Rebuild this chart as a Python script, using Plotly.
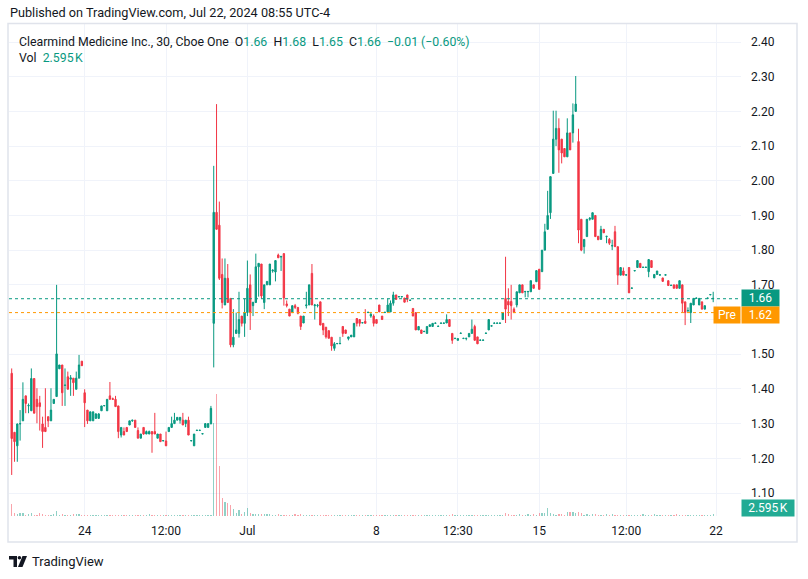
import plotly.graph_objects as go

# ---------------- data (30-min bars, Cboe One) ----------------
open_ = [
    1.445, 1.275, 1.236, 1.299, 1.308, 1.380, 1.351, 1.337, 1.430, 1.370,
    1.360, 1.299, 1.289, 1.320, 1.308, 1.358, 1.378, 1.458, 1.469,
    1.410, 1.435, 1.428, 1.431, 1.399, 1.431, 1.480, 1.389, 1.339, 1.308,
    1.308, 1.315, 1.315, 1.337, 1.351, 1.337, 1.380, 1.372, 1.370, 1.351,
    1.267, 1.277, 1.289, 1.296, 1.308, 1.310, 1.280, 1.258, 1.289, 1.270,
    1.270, 1.277, 1.277, 1.258, 1.270, 1.250, 1.250, 1.277, 1.289, 1.300,
    1.310, 1.310, 1.310, 1.300, 1.310, 1.250, 1.236, 1.280, 1.280, 1.270,
    1.289, 1.289, 1.299, 1.589, 1.909, 1.872, 1.730, 1.642, 1.719, 1.661,
    1.527, 1.560, 1.560, 1.610, 1.589, 1.620, 1.700, 1.640, 1.649, 1.752,
    1.760, 1.649, 1.700, 1.700, 1.740, 1.737, 1.786, 1.780, 1.790, 1.645,
    1.630, 1.620, 1.640, 1.635, 1.610, 1.590, 1.640, 1.642, 1.733, 1.640,
    1.640, 1.651, 1.589, 1.578, 1.568, 1.549, 1.517, 1.530, 1.530, 1.580,
    1.570, 1.545, 1.550, 1.550, 1.603, 1.600, 1.590, 1.595, 1.620, 1.610,
    1.610, 1.600, 1.642, 1.610, 1.620, 1.622, 1.622, 1.647, 1.671, 1.665,
    1.665, 1.662, 1.671, 1.655, 1.632, 1.620, 1.570, 1.570, 1.565, 1.560,
    1.580, 1.580, 1.589, 1.580, 1.589, 1.589, 1.590, 1.600, 1.560, 1.545,
    1.540, 1.560, 1.545, 1.545, 1.550, 1.560, 1.580, 1.550, 1.540, 1.540,
    1.560, 1.570, 1.581, 1.589, 1.589, 1.589, 1.600, 1.661, 1.652, 1.652,
    1.630, 1.642, 1.677, 1.700, 1.680, 1.680, 1.680, 1.700, 1.709, 1.745,
    1.738, 1.800, 1.860, 1.908, 2.021, 2.120, 2.151, 2.120, 2.093, 2.069,
    2.138, 2.138, 2.200, 2.113, 1.889, 1.810, 1.839, 1.889, 1.889, 1.900,
    1.840, 1.831, 1.860, 1.839, 1.831, 1.812, 1.853, 1.810, 1.728, 1.740,
    1.728, 1.750, 1.690, 1.740, 1.750, 1.762, 1.750, 1.750, 1.738, 1.770,
    1.720, 1.730, 1.728, 1.720, 1.728, 1.712, 1.698, 1.700, 1.700, 1.690,
    1.700, 1.651, 1.625, 1.620, 1.642, 1.661, 1.642, 1.651, 1.630, 1.661,
    1.671, 1.660,
]
high = [
    1.459, 1.275, 1.300, 1.339, 1.419, 1.380, 1.358, 1.459, 1.430, 1.402,
    1.380, 1.320, 1.402, 1.320, 1.402, 1.370, 1.700, 1.469, 1.469,
    1.459, 1.450, 1.440, 1.431, 1.450, 1.498, 1.480, 1.399, 1.339, 1.334,
    1.334, 1.330, 1.330, 1.351, 1.351, 1.370, 1.420, 1.375, 1.380, 1.351,
    1.289, 1.289, 1.289, 1.308, 1.310, 1.310, 1.289, 1.270, 1.289, 1.280,
    1.280, 1.277, 1.331, 1.270, 1.270, 1.250, 1.277, 1.289, 1.320, 1.331,
    1.318, 1.318, 1.331, 1.310, 1.320, 1.250, 1.270, 1.280, 1.280, 1.270,
    1.300, 1.300, 1.351, 2.043, 2.221, 1.940, 1.776, 1.776, 1.760, 1.661,
    1.630, 1.620, 1.680, 1.610, 1.660, 1.770, 1.730, 1.650, 1.790, 1.762,
    1.760, 1.700, 1.710, 1.760, 1.745, 1.770, 1.790, 1.782, 1.790, 1.655,
    1.630, 1.640, 1.645, 1.635, 1.610, 1.610, 1.680, 1.700, 1.760, 1.645,
    1.645, 1.651, 1.589, 1.578, 1.568, 1.549, 1.535, 1.530, 1.550, 1.580,
    1.570, 1.550, 1.555, 1.589, 1.603, 1.600, 1.590, 1.630, 1.620, 1.622,
    1.615, 1.600, 1.642, 1.610, 1.620, 1.660, 1.655, 1.680, 1.671, 1.665,
    1.665, 1.662, 1.671, 1.655, 1.632, 1.620, 1.580, 1.570, 1.565, 1.580,
    1.585, 1.589, 1.589, 1.580, 1.589, 1.589, 1.615, 1.600, 1.560, 1.545,
    1.545, 1.560, 1.545, 1.545, 1.560, 1.600, 1.585, 1.550, 1.540, 1.540,
    1.560, 1.600, 1.581, 1.589, 1.589, 1.589, 1.620, 1.781, 1.690, 1.700,
    1.635, 1.680, 1.700, 1.700, 1.680, 1.680, 1.712, 1.700, 1.741, 1.745,
    1.800, 1.876, 1.971, 2.012, 2.202, 2.202, 2.180, 2.120, 2.093, 2.180,
    2.138, 2.223, 2.302, 2.150, 1.889, 1.831, 1.889, 1.895, 1.908, 1.900,
    1.840, 1.870, 1.860, 1.839, 1.835, 1.830, 1.870, 1.810, 1.750, 1.750,
    1.728, 1.750, 1.690, 1.740, 1.770, 1.762, 1.750, 1.750, 1.773, 1.770,
    1.730, 1.740, 1.728, 1.720, 1.728, 1.712, 1.698, 1.700, 1.700, 1.712,
    1.700, 1.651, 1.635, 1.647, 1.661, 1.661, 1.661, 1.651, 1.640, 1.661,
    1.671, 1.680,
]
low = [
    1.152, 1.190, 1.190, 1.251, 1.308, 1.330, 1.330, 1.337, 1.330, 1.301,
    1.280, 1.230, 1.277, 1.290, 1.308, 1.358, 1.378, 1.458, 1.351,
    1.351, 1.399, 1.380, 1.380, 1.399, 1.431, 1.467, 1.290, 1.299, 1.308,
    1.308, 1.315, 1.315, 1.337, 1.351, 1.337, 1.370, 1.368, 1.349, 1.258,
    1.260, 1.267, 1.277, 1.296, 1.305, 1.289, 1.258, 1.258, 1.268, 1.270,
    1.270, 1.216, 1.270, 1.258, 1.248, 1.250, 1.236, 1.277, 1.289, 1.300,
    1.310, 1.300, 1.296, 1.290, 1.267, 1.250, 1.236, 1.280, 1.280, 1.270,
    1.289, 1.289, 1.299, 1.462, 1.860, 1.714, 1.632, 1.642, 1.649, 1.520,
    1.520, 1.560, 1.548, 1.580, 1.550, 1.610, 1.570, 1.610, 1.649, 1.666,
    1.660, 1.630, 1.700, 1.700, 1.735, 1.710, 1.778, 1.740, 1.640, 1.635,
    1.610, 1.620, 1.630, 1.615, 1.570, 1.590, 1.632, 1.642, 1.642, 1.600,
    1.635, 1.584, 1.555, 1.545, 1.546, 1.510, 1.510, 1.530, 1.530, 1.550,
    1.560, 1.540, 1.550, 1.550, 1.580, 1.580, 1.590, 1.589, 1.620, 1.605,
    1.580, 1.589, 1.622, 1.600, 1.620, 1.622, 1.622, 1.640, 1.658, 1.665,
    1.665, 1.650, 1.650, 1.655, 1.610, 1.570, 1.570, 1.560, 1.565, 1.560,
    1.580, 1.580, 1.589, 1.580, 1.589, 1.589, 1.590, 1.580, 1.530, 1.545,
    1.540, 1.560, 1.545, 1.540, 1.550, 1.560, 1.540, 1.530, 1.540, 1.540,
    1.560, 1.570, 1.581, 1.589, 1.589, 1.589, 1.600, 1.590, 1.610, 1.600,
    1.620, 1.635, 1.677, 1.677, 1.664, 1.664, 1.680, 1.690, 1.709, 1.687,
    1.738, 1.800, 1.860, 1.890, 2.021, 2.100, 2.023, 2.050, 2.069, 2.069,
    2.089, 2.110, 2.200, 1.820, 1.797, 1.790, 1.839, 1.885, 1.889, 1.839,
    1.830, 1.831, 1.850, 1.820, 1.815, 1.800, 1.810, 1.700, 1.728, 1.728,
    1.728, 1.677, 1.690, 1.740, 1.750, 1.750, 1.750, 1.750, 1.722, 1.750,
    1.720, 1.730, 1.728, 1.710, 1.728, 1.698, 1.698, 1.690, 1.690, 1.690,
    1.620, 1.584, 1.620, 1.590, 1.642, 1.661, 1.642, 1.630, 1.630, 1.661,
    1.671, 1.650,
]
close = [
    1.257, 1.248, 1.299, 1.300, 1.370, 1.358, 1.352, 1.430, 1.330, 1.349,
    1.349, 1.277, 1.277, 1.308, 1.339, 1.370, 1.501, 1.469, 1.389,
    1.411, 1.399, 1.432, 1.418, 1.431, 1.469, 1.467, 1.360, 1.308, 1.334,
    1.334, 1.328, 1.328, 1.351, 1.352, 1.370, 1.370, 1.370, 1.349, 1.277,
    1.289, 1.267, 1.277, 1.308, 1.310, 1.289, 1.258, 1.270, 1.270, 1.277,
    1.277, 1.270, 1.270, 1.270, 1.248, 1.251, 1.236, 1.289, 1.300, 1.310,
    1.318, 1.318, 1.296, 1.310, 1.267, 1.251, 1.270, 1.281, 1.281, 1.271,
    1.300, 1.300, 1.344, 1.909, 1.860, 1.719, 1.649, 1.719, 1.649, 1.527,
    1.549, 1.570, 1.600, 1.589, 1.620, 1.690, 1.620, 1.650, 1.752, 1.762,
    1.668, 1.700, 1.710, 1.760, 1.742, 1.770, 1.778, 1.782, 1.662, 1.640,
    1.610, 1.640, 1.635, 1.618, 1.580, 1.610, 1.642, 1.700, 1.642, 1.642,
    1.641, 1.584, 1.570, 1.550, 1.546, 1.524, 1.530, 1.531, 1.531, 1.560,
    1.560, 1.550, 1.555, 1.589, 1.589, 1.589, 1.591, 1.589, 1.621, 1.615,
    1.589, 1.589, 1.622, 1.600, 1.621, 1.642, 1.647, 1.671, 1.658, 1.666,
    1.666, 1.650, 1.658, 1.656, 1.610, 1.570, 1.580, 1.560, 1.566, 1.580,
    1.585, 1.589, 1.590, 1.581, 1.590, 1.590, 1.600, 1.580, 1.540, 1.546,
    1.545, 1.561, 1.546, 1.546, 1.560, 1.572, 1.540, 1.530, 1.541, 1.541,
    1.561, 1.600, 1.582, 1.590, 1.590, 1.590, 1.620, 1.630, 1.642, 1.640,
    1.620, 1.680, 1.700, 1.677, 1.681, 1.681, 1.712, 1.690, 1.741, 1.687,
    1.800, 1.853, 1.900, 2.012, 2.120, 2.151, 2.089, 2.080, 2.069, 2.138,
    2.089, 2.190, 2.221, 1.858, 1.800, 1.831, 1.889, 1.892, 1.908, 1.839,
    1.830, 1.860, 1.850, 1.840, 1.820, 1.813, 1.810, 1.728, 1.750, 1.728,
    1.729, 1.677, 1.691, 1.741, 1.770, 1.750, 1.751, 1.751, 1.773, 1.750,
    1.730, 1.740, 1.729, 1.710, 1.729, 1.698, 1.699, 1.690, 1.690, 1.712,
    1.647, 1.620, 1.626, 1.647, 1.661, 1.662, 1.661, 1.630, 1.640, 1.662,
    1.672, 1.661,
]
volume_k = [
    15.0, 3.8, 2.5, 3.8, 3.8, 1.3, 2.5, 3.8, 1.3, 1.3,
    3.8, 2.5, 1.3, 1.3, 1.3, 2.5, 6.4, 1.3, 2.5,
    1.3, 1.3, 1.3, 2.5, 2.5, 2.5, 1.3, 1.3, 1.3, 1.3,
    1.3, 1.3, 1.3, 1.3, 1.3, 1.3, 1.3, 1.3, 1.3, 1.3,
    1.3, 1.3, 1.3, 1.3, 1.3, 1.3, 1.3, 1.3, 1.3, 1.3,
    2.5, 1.3, 1.3, 1.3, 1.3, 1.3, 1.3, 1.3, 1.3, 1.3,
    1.3, 1.3, 1.3, 1.3, 1.3, 1.3, 1.3, 1.3, 1.3, 1.3,
    1.3, 1.3, 1.3, 118.0, 155.0, 64.0, 22.5, 17.4, 16.0, 13.6,
    8.5, 3.8, 7.2, 2.5, 4.7, 9.8, 3.4, 2.5, 2.5, 2.5,
    2.5, 2.5, 2.5, 2.5, 1.3, 1.3, 2.5, 1.3, 1.3, 1.3,
    1.3, 1.3, 2.5, 1.3, 2.5, 1.3, 1.3, 1.3, 1.3, 1.3,
    1.3, 1.3, 1.3, 1.3, 1.3, 1.3, 1.3, 1.3, 1.3, 1.3,
    1.3, 1.3, 1.3, 1.3, 1.3, 1.3, 1.3, 1.3, 1.3, 1.3,
    1.3, 1.3, 1.3, 1.3, 1.3, 1.3, 1.3, 1.3, 1.3, 1.3,
    1.3, 1.3, 1.3, 1.3, 1.3, 1.3, 1.3, 1.3, 1.3, 1.3,
    1.3, 1.3, 1.3, 1.3, 1.3, 1.3, 1.3, 1.3, 2.5, 1.3,
    1.3, 1.3, 1.3, 1.3, 1.3, 1.3, 1.3, 1.3, 1.3, 1.3,
    1.3, 1.3, 1.3, 1.3, 1.3, 1.3, 1.3, 3.8, 2.5, 1.3,
    1.3, 1.3, 2.5, 1.3, 1.3, 2.5, 1.3, 2.5, 1.3, 3.8,
    3.8, 3.8, 10.0, 3.8, 2.5, 1.3, 2.5, 2.5, 1.3, 5.0,
    5.0, 5.0, 3.8, 5.0, 3.8, 1.3, 2.5, 1.3, 2.5, 2.5,
    1.3, 1.3, 1.3, 2.5, 1.3, 2.5, 1.3, 1.3, 1.3, 1.3,
    1.3, 1.3, 1.3, 1.3, 1.3, 1.3, 2.5, 1.3, 1.3, 1.3,
    2.5, 1.3, 1.3, 1.3, 1.3, 1.3, 1.3, 1.3, 2.5, 1.3,
    1.3, 1.3, 1.3, 1.3, 1.3, 1.3, 1.3, 1.3, 1.3, 1.3,
    1.3, 2.595,
]
tick_bars = [26, 55, 84, 130, 159, 188, 219, 251]
tick_labels = ["24", "12:00", "Jul", "8", "12:30", "15", "12:00", "22"]
price_ticks = [1.10, 1.20, 1.30, 1.40, 1.50, 1.60, 1.70, 1.80, 1.90, 2.00,
               2.10, 2.20, 2.30, 2.40]
last_price = 1.66
pre_price = 1.62
last_volume_label = "2.595\u202fK"

# ---------------- styling ----------------
GREEN = "#089981"
RED = "#F23645"
ORANGE = "#FF9800"
VOL_GREEN = "rgba(8,153,129,0.45)"
VOL_RED = "rgba(242,54,69,0.45)"
GRID = "#f0f3fa"
TEXT = "#131722"
FONT = "Roboto, 'Open Sans', sans-serif"

W, H = 808, 579
L, R, T, B = 9, 741, 23, 516          # plot area in pixels
PW, PH = R - L, B - T


def px_x(px):
    return (px - L) / PW


def px_y(py):
    return (B - py) / PH


bars = list(range(len(open_)))
vol_colors = [VOL_GREEN if c >= o else VOL_RED for o, c in zip(open_, close)]

fig = go.Figure()
fig.add_trace(go.Bar(
    x=bars, y=volume_k, yaxis="y2", marker=dict(color=vol_colors, line=dict(width=0)),
    width=0.45, hoverinfo="skip", showlegend=False,
))
fig.add_trace(go.Candlestick(
    x=bars, open=open_, high=high, low=low, close=close,
    increasing=dict(line=dict(color=GREEN, width=1), fillcolor=GREEN),
    decreasing=dict(line=dict(color=RED, width=1), fillcolor=RED),
    whiskerwidth=0, showlegend=False, hoverinfo="skip",
))

shapes = [
    dict(type="line", xref="paper", x0=0, x1=1, yref="y", y0=last_price, y1=last_price,
         line=dict(color=GREEN, width=1, dash="dot")),
    dict(type="line", xref="paper", x0=0, x1=1, yref="y", y0=pre_price, y1=pre_price,
         line=dict(color=ORANGE, width=1, dash="dot")),
    # chart frame
    dict(type="rect", xref="paper", yref="paper", x0=px_x(8), x1=px_x(797),
         y0=px_y(542), y1=px_y(23.5), line=dict(color="#e0e3eb", width=1.5)),
]


def path_px(points):
    return "M " + " L ".join(f"{px_x(x):.5f},{px_y(y):.5f}" for x, y in points) + " Z"


# TradingView logo (decorative)
shapes.append(dict(type="path", xref="paper", yref="paper",
                   path=path_px([(9, 556), (17, 556), (17, 567), (13.5, 567), (13.5, 559.5), (9, 559.5)]),
                   fillcolor=TEXT, line=dict(width=0)))
shapes.append(dict(type="circle", xref="paper", yref="paper",
                   x0=px_x(17.6), x1=px_x(21.2), y0=px_y(559.6), y1=px_y(556),
                   fillcolor=TEXT, line=dict(width=0)))
shapes.append(dict(type="path", xref="paper", yref="paper",
                   path=path_px([(22.5, 556), (27, 556), (22.5, 567), (18, 567)]),
                   fillcolor=TEXT, line=dict(width=0)))

nb = "\u00a0"
g = lambda s: f'<span style="color:{GREEN}">{s}</span>'
legend_line = (f"Clearmind Medicine Inc., 30, Cboe One{nb}{nb}O{g('1.66')}{nb}{nb}H{g('1.68')}"
               f"{nb}{nb}L{g('1.65')}{nb}{nb}C{g('1.66')}{nb}{nb}{g('−0.01 (−0.60%)')}")

annotations = [
    dict(text="Published on TradingView.com, Jul 22, 2024 08:55 UTC-4", xref="paper", yref="paper",
         x=px_x(8), y=px_y(13), xanchor="left", yanchor="middle", showarrow=False,
         font=dict(size=12.7, color=TEXT, family=FONT)),
    dict(text=legend_line, xref="paper", yref="paper",
         x=px_x(17), y=px_y(42), xanchor="left", yanchor="middle", showarrow=False,
         font=dict(size=12.3, color=TEXT, family=FONT)),
    dict(text=f"Vol{nb}{nb}{g('2.595' + chr(0x202f) + 'K')}", xref="paper", yref="paper",
         x=px_x(17), y=px_y(58), xanchor="left", yanchor="middle", showarrow=False,
         font=dict(size=12.3, color=TEXT, family=FONT)),
    dict(text=f"{last_price:.2f}", xref="paper", yref="paper", x=px_x(741.5), y=px_y(298),
         xanchor="left", yanchor="middle", showarrow=False, bgcolor=GREEN, width=35, height=14,
         borderpad=1, font=dict(size=12, color="white", family=FONT)),
    dict(text=f"{pre_price:.2f}", xref="paper", yref="paper", x=px_x(741.5), y=px_y(315),
         xanchor="left", yanchor="middle", showarrow=False, bgcolor=ORANGE, width=35, height=14,
         borderpad=1, font=dict(size=12, color="white", family=FONT)),
    dict(text="Pre", xref="paper", yref="paper", x=px_x(740.5), y=px_y(315),
         xanchor="right", yanchor="middle", showarrow=False, bgcolor=ORANGE, width=24, height=14,
         borderpad=1, font=dict(size=12, color="white", family=FONT)),
    dict(text=last_volume_label, xref="paper", yref="paper", x=px_x(741.5), y=px_y(507.5),
         xanchor="left", yanchor="middle", showarrow=False, bgcolor="#22AB94", width=50, height=14,
         borderpad=1, font=dict(size=12, color="white", family=FONT)),
    dict(text="TradingView", xref="paper", yref="paper", x=px_x(30), y=px_y(561),
         xanchor="left", yanchor="middle", showarrow=False,
         font=dict(size=13, color=TEXT, family=FONT)),
]

SP = 2.806
x_left = -(11.7 - L) / SP
x_right = (R - 11.7) / SP
y_per_px = 1.0 / 346.9
y_top = 2.40 + (42 - T) * y_per_px
y_bot = 1.10 - (B - 493) * y_per_px
vmax = max(volume_k)
# the 1.60 price label sits under the pre-market label, as in the reference
price_ticktext = ["" if abs(v - 1.60) < 1e-9 else f"{v:.2f}" for v in price_ticks]

fig.update_layout(
    width=W, height=H,
    margin=dict(l=L, r=W - R, t=T, b=H - B, pad=0),
    paper_bgcolor="white", plot_bgcolor="white",
    font=dict(family=FONT, color=TEXT, size=12),
    showlegend=False,
    xaxis=dict(range=[x_left, x_right], tickmode="array", tickvals=tick_bars, ticktext=tick_labels,
               showgrid=True, gridcolor=GRID, gridwidth=1, zeroline=False, showline=False,
               ticks="", ticklabelstandoff=6, rangeslider=dict(visible=False),
               tickfont=dict(size=12, color=TEXT, family=FONT), fixedrange=True),
    yaxis=dict(range=[y_bot, y_top], side="right", tickmode="array", tickvals=price_ticks,
               ticktext=price_ticktext, showgrid=True, gridcolor=GRID,
               zeroline=False, showline=False, ticks="", ticklabelstandoff=9,
               tickfont=dict(size=12, color=TEXT, family=FONT), fixedrange=True),
    yaxis2=dict(overlaying="y", range=[0, vmax / 0.248], visible=False, fixedrange=True),
    shapes=shapes, annotations=annotations, bargap=0,
)

fig.write_html("out.html", config={"displayModeBar": False, "staticPlot": True},
               post_script="document.body.style.margin='0';document.body.style.overflow='hidden';")
